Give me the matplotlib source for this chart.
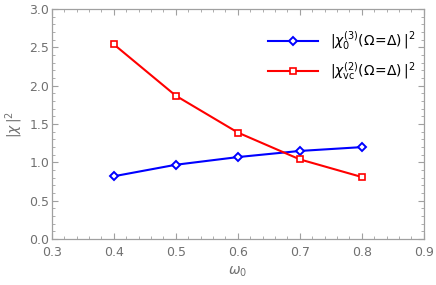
import matplotlib.pyplot as plt
from matplotlib.ticker import MultipleLocator

omega0 = [0.4, 0.5, 0.6, 0.7, 0.8]
chi3 = [0.82, 0.97, 1.07, 1.15, 1.20]
chi2 = [2.54, 1.87, 1.39, 1.04, 0.81]

plt.rcParams['mathtext.fontset'] = 'dejavusans'

fig = plt.figure(figsize=(4.36, 2.85), dpi=100)
ax = fig.add_axes([0.119, 0.161, 0.853, 0.807])

ax.plot(omega0, chi3, color='#0000ff', lw=1.5, marker='D', ms=4.5,
        mfc='white', mec='#0000ff', mew=1.4,
        label=r'$|\chi_0^{(3)}(\Omega\!=\!\Delta)\,|^2$')
ax.plot(omega0, chi2, color='#ff0000', lw=1.5, marker='s', ms=5,
        mfc='white', mec='#ff0000', mew=1.2,
        label=r'$|\chi_{\rm vc}^{(2)}(\Omega\!=\!\Delta)\,|^2$')

ax.set_xlim(0.3, 0.9)
ax.set_ylim(0, 3.0)
ax.xaxis.set_major_locator(MultipleLocator(0.1))
ax.xaxis.set_minor_locator(MultipleLocator(0.02))
ax.yaxis.set_major_locator(MultipleLocator(0.5))
ax.yaxis.set_minor_locator(MultipleLocator(0.1))

for s in ax.spines.values():
    s.set_color('#a0a0a0')
    s.set_linewidth(0.9)
ax.tick_params(which='both', direction='in', top=True, right=True,
               color='#a0a0a0', labelcolor='#707070', labelsize=9)
ax.tick_params(which='major', length=4, width=0.8, pad=2)
ax.tick_params(axis='x', which='major', pad=5)
ax.tick_params(which='minor', length=2, width=0.6)

ax.set_xlabel(r'$\omega_0$', color='#707070', fontsize=10, labelpad=4)
ax.set_ylabel(r'$|\chi\,|^2$', color='#707070', fontsize=10, labelpad=3)

ax.legend(loc='upper right', bbox_to_anchor=(1.01, 0.965), frameon=False,
          fontsize=10, handlelength=3.6, labelspacing=0.6, handletextpad=0.8)

fig.savefig('out.png', dpi=100)
